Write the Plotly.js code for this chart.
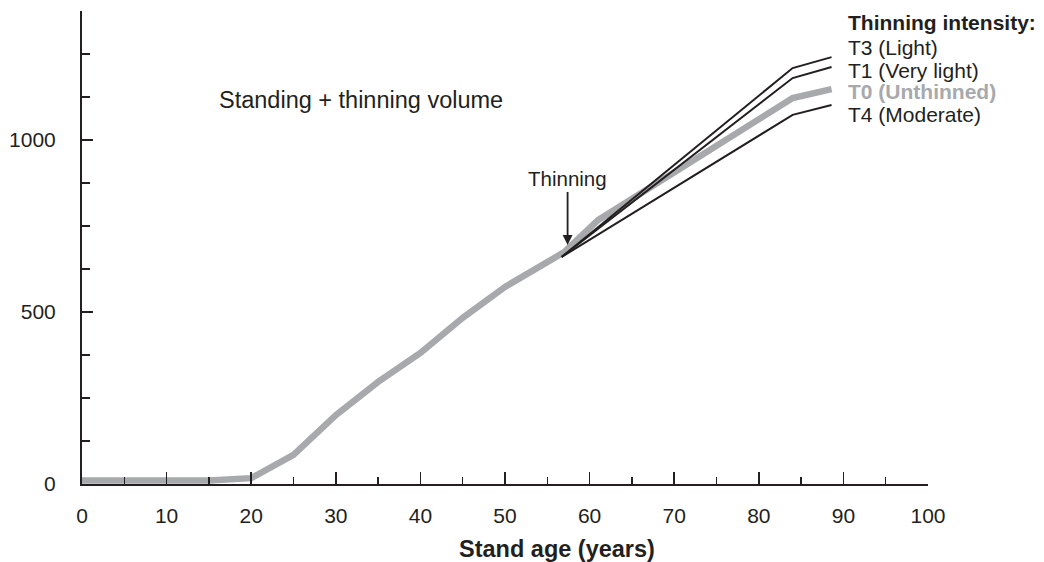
<!DOCTYPE html>
<html>
<head>
<meta charset="utf-8">
<script src="https://cdn.plot.ly/plotly-3.0.1.min.js"></script>
<style>html,body{margin:0;padding:0;background:#fff}#chart{width:1044px;height:562px}</style>
</head>
<body>
<div id="chart"></div>
<script>
// Data
var ageT0 = [0, 5, 10, 15, 20, 25, 30, 35, 40, 45, 50, 57, 61, 84, 88.6];
var volT0 = [10, 10, 10, 10, 17, 85, 200, 297, 381, 483, 573, 674, 767, 1122, 1148];
var ageThin = [56.7, 84, 88.6];
var volT3 = [660, 1209, 1241];
var volT1 = [660, 1180, 1212];
var volT4 = [660, 1073, 1102];
var yTickVals = [0, 500, 1000];
var yTickText = ['0', '500', '1000'];
var xTickVals = [0, 10, 20, 30, 40, 50, 60, 70, 80, 90, 100];
var legendLabels = ['T3 (Light)', 'T1 (Very light)', 'T0 (Unthinned)', 'T4 (Moderate)'];
var legendY = [1270, 1203, 1140, 1073];
var xTitle = 'Stand age (years)';

var ink = '#231f20';
var grey = '#a7a9ac';
var font = 'Liberation Sans, Arial, sans-serif';

var traces = [
  {x: ageT0, y: volT0, mode: 'lines', line: {color: grey, width: 6.5}, hoverinfo: 'skip'},
  {x: ageThin, y: volT3, mode: 'lines', line: {color: ink, width: 2}, hoverinfo: 'skip'},
  {x: ageThin, y: volT1, mode: 'lines', line: {color: ink, width: 2}, hoverinfo: 'skip'},
  {x: ageThin, y: volT4, mode: 'lines', line: {color: ink, width: 2}, hoverinfo: 'skip'}
];

var annotations = [
  {x: 16.0, y: 1116, xref: 'x', yref: 'y', text: 'Standing + thinning volume', showarrow: false,
   xanchor: 'left', yanchor: 'middle', font: {family: font, size: 23.5, color: ink}},
  {x: 57.4, y: 695, xref: 'x', yref: 'y', text: 'Thinning', showarrow: true, ax: 0, ay: -66,
   arrowhead: 2, arrowsize: 1.1, arrowwidth: 1.8, arrowcolor: ink,
   font: {family: font, size: 20.5, color: ink}},
  {x: 90.3, y: 1343, xref: 'x', yref: 'y', text: '<b>Thinning intensity:</b>', showarrow: false,
   xanchor: 'left', yanchor: 'middle', font: {family: font, size: 21, color: ink}},
  {x: 0.5615, y: -0.137, xref: 'paper', yref: 'paper', text: '<b>' + xTitle + '</b>', showarrow: false,
   xanchor: 'center', yanchor: 'middle', font: {family: font, size: 23.5, color: ink}}
];
legendLabels.forEach(function (lab, i) {
  var isT0 = lab.indexOf('T0') === 0;
  annotations.push({x: 90.3, y: legendY[i], xref: 'x', yref: 'y',
    text: isT0 ? '<b>' + lab + '</b>' : lab, showarrow: false,
    xanchor: 'left', yanchor: 'middle',
    font: {family: font, size: 21, color: isT0 ? grey : ink}});
});

var layout = {
  width: 1044, height: 562,
  margin: {l: 82, r: 116, t: 11, b: 78},
  paper_bgcolor: '#fff', plot_bgcolor: '#fff',
  showlegend: false,
  font: {family: font, color: ink, size: 21},
  xaxis: {
    range: [0, 100], showgrid: false, zeroline: false,
    showline: true, linecolor: ink, linewidth: 2,
    ticks: 'inside', ticklen: 12, tickwidth: 1.5, tickcolor: ink,
    tickvals: xTickVals, ticklabelstandoff: 12,
    tickfont: {family: font, size: 21, color: ink},
    minor: {dtick: 5, tick0: 0, ticks: 'inside', ticklen: 7, tickwidth: 1.5, tickcolor: ink, showgrid: false}
  },
  yaxis: {
    range: [0, 1375], showgrid: false, zeroline: false,
    showline: true, linecolor: ink, linewidth: 2,
    ticks: 'inside', ticklen: 11, tickwidth: 1.5, tickcolor: ink,
    tickvals: yTickVals, ticktext: yTickText, ticklabelstandoff: 20,
    tickfont: {family: font, size: 21, color: ink},
    minor: {dtick: 125, tick0: 0, ticks: 'inside', ticklen: 8, tickwidth: 1.5, tickcolor: ink, showgrid: false}
  },
  annotations: annotations
};

Plotly.newPlot('chart', traces, layout, {displayModeBar: false, staticPlot: true});
</script>
</body>
</html>
